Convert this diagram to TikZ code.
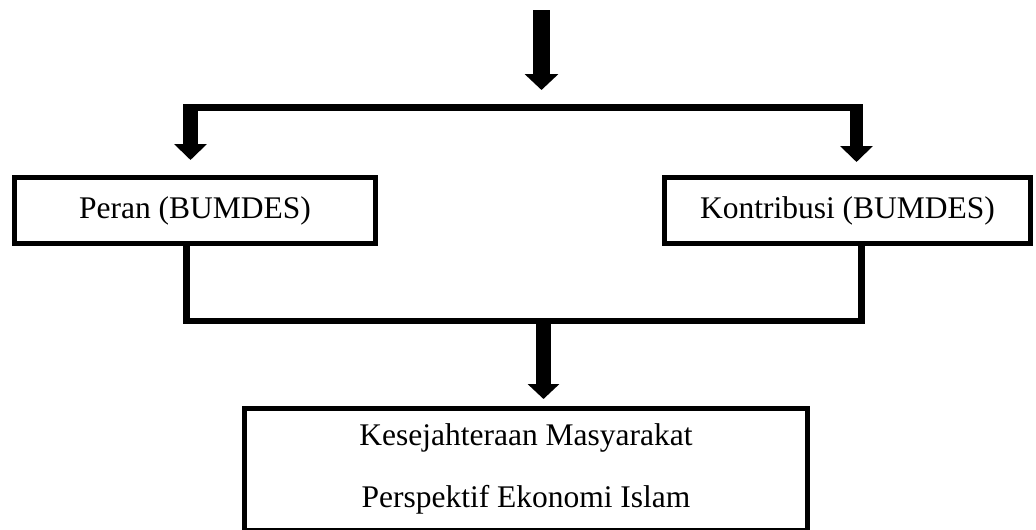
\documentclass[tikz,border=0pt]{standalone}
\usepackage{fontspec}
\setmainfont{Liberation Serif}
\usetikzlibrary{arrows.meta}
\begin{document}
\begin{tikzpicture}[x=1pt,y=-1pt,
  box/.style={draw=black,line width=5pt,rectangle,inner sep=0pt,align=center,
    font=\fontsize{31.5}{62}\selectfont},
  conn/.style={draw=black,line width=6.5pt,line join=miter},
  bigarrow/.style={line width=#1,-{Triangle[width=32pt,length=16pt]}},
  bigarrow/.default=15pt]
\useasboundingbox (0,0) rectangle (1036,530);
% boxes
\node[box,minimum width=361pt,minimum height=66pt] (peran) at (195,210.5) {Peran (BUMDES)};
\node[box,minimum width=366pt,minimum height=66pt] (kontr) at (847.5,210.5) {Kontribusi (BUMDES)};
\node[box,minimum width=563pt,minimum height=121.5pt] (kesej) at (526,469.25)
  {Kesejahteraan Masyarakat\\Perspektif Ekonomi Islam};
% top arrow
\coordinate (top) at (541.5,10);
\coordinate (topend) at (541.5,90);
\draw[line width=17pt,-{Triangle[width=33pt,length=16pt]}] (top) -- (topend);
% top bracket
\coordinate (bl) at (183,107.5);
\coordinate (br) at (863,107.5);
\draw[line width=7pt] (bl) -- (br);
\coordinate (al) at (190.5,104);
\coordinate (ar) at (856.5,104);
\draw[bigarrow,shorten >=15pt] (al) -- (al |- peran.north);
\draw[bigarrow=13pt,shorten >=13pt] (ar) -- (ar |- kontr.north);
% lower bracket
\coordinate (jl) at (186.5,321);
\coordinate (jr) at (861.5,321);
\draw[conn] (jl |- peran.south) -- (jl) -- (jr) -- (jr |- kontr.south);
\coordinate (am) at (543.5,321);
\draw[line width=15pt,-{Triangle[width=31pt,length=15pt]},shorten >=7pt] (am) -- (am |- kesej.north);
\end{tikzpicture}
\end{document}
